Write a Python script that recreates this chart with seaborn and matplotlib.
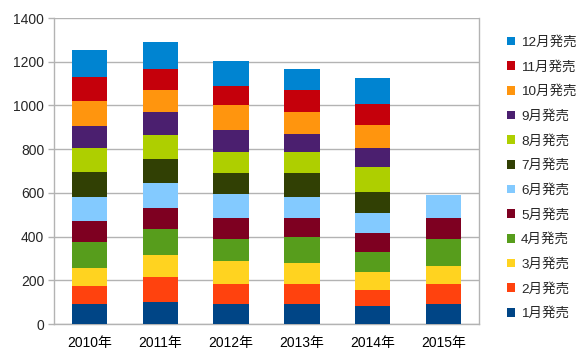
import matplotlib
matplotlib.use("Agg")
import matplotlib.pyplot as plt
import seaborn as sns
import numpy as np
from matplotlib.patches import Patch

years = ["2010年", "2011年", "2012年", "2013年", "2014年", "2015年"]
months = ["1月発売", "2月発売", "3月発売", "4月発売", "5月発売", "6月発売",
          "7月発売", "8月発売", "9月発売", "10月発売", "11月発売", "12月発売"]

m01 = [92, 101, 92, 92, 81, 92]
m02 = [82, 113, 93, 93, 76, 93]
m03 = [82, 102, 104, 94, 82, 82]
m04 = [119, 119, 98, 118, 89, 123]
m05 = [96, 97, 97, 87, 90, 93]
m06 = [112, 113, 110, 96, 90, 107]
m07 = [111, 110, 99, 113, 97, 0]
m08 = [113, 111, 96, 93, 112, 0]
m09 = [99, 104, 98, 83, 90, 0]
m10 = [116, 102, 114, 100, 103, 0]
m11 = [108, 95, 90, 103, 98, 0]
m12 = [122, 122, 112, 96, 116, 0]

series = [m01, m02, m03, m04, m05, m06, m07, m08, m09, m10, m11, m12]
colors = ["#004586", "#ff420e", "#ffd320", "#579d1c", "#7e0021", "#83caff",
          "#314004", "#aecf00", "#4b1f6f", "#ff950e", "#c5000b", "#0084d1"]

sns.set_style("white")
fam = ["Liberation Sans", "Noto Sans CJK JP", "DejaVu Sans"]
plt.rcParams["font.family"] = fam

fig = plt.figure(figsize=(5.88, 3.64), dpi=100)
ax = fig.add_axes([54/588, 1-324/364, (479-54)/588, (324-18)/364])

bottom = np.zeros(len(years))
for vals, col in zip(series, colors):
    sns.barplot(x=years, y=vals, bottom=bottom, color=col, width=0.5,
                linewidth=0, saturation=1, ax=ax, zorder=3)
    bottom = bottom + np.array(vals)

ax.set_xlim(-0.5, 5.5)
ax.set_ylim(0, 1400)
ax.set_yticks(np.arange(0, 1401, 200))
ax.yaxis.grid(True, color="#b3b3b3", linewidth=1, zorder=0)
ax.set_axisbelow(True)
ax.set_xlabel("")
ax.set_ylabel("")

ax.set_xticks(np.arange(-0.5, 6, 1), minor=True)
ax.tick_params(axis="x", which="major", length=0, pad=9, labelsize=10, colors="#000000")
ax.tick_params(axis="x", which="minor", length=6, width=1, color="#b3b3b3", direction="out")
ax.tick_params(axis="y", which="major", length=4, width=1, color="#b3b3b3", pad=3,
               labelsize=10, direction="out")
ax.tick_params(left=True, bottom=True)
for s in ["left", "bottom", "right"]:
    ax.spines[s].set_color("#b3b3b3")
    ax.spines[s].set_linewidth(1)
ax.spines["top"].set_visible(False)

handles = [Patch(facecolor=c, edgecolor="none", label=l) for c, l in zip(colors, months)][::-1]
fig.legend(handles=handles, loc="upper left", bbox_to_anchor=(507/588, 1-36/364),
           frameon=False, fontsize=9.7, handlelength=0.6, handleheight=0.6,
           handletextpad=0.45, labelspacing=0.88, borderaxespad=0, borderpad=0)

fig.savefig("out.png", dpi=100)
